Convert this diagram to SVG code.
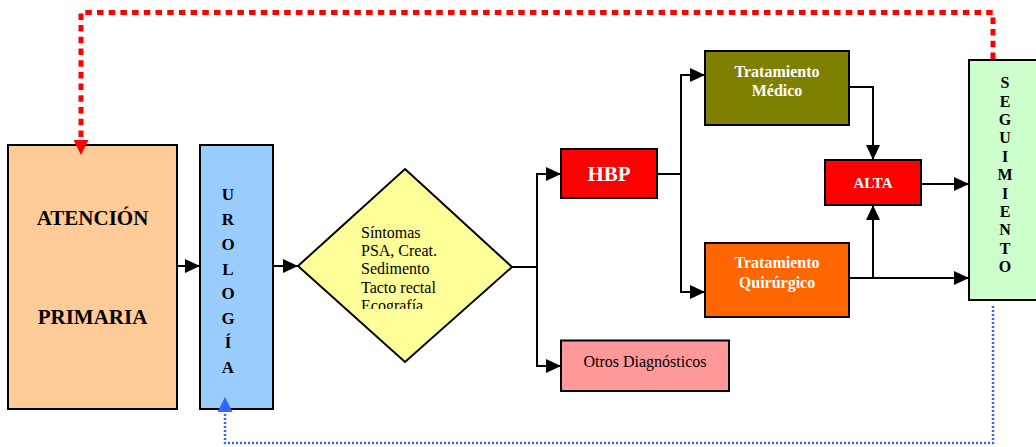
<svg xmlns="http://www.w3.org/2000/svg" width="1036" height="447" viewBox="0 0 1036 447">
<style>
.box{stroke:#000;stroke-width:2}
.t{font-family:"Liberation Serif","Times New Roman",serif}
.b{font-weight:bold}
.w{fill:#fff}
.k{fill:#000}
.conn{fill:none;stroke:#000;stroke-width:2}
</style>
<defs>
<marker id="ah" markerUnits="userSpaceOnUse" markerWidth="15" markerHeight="14" refX="15" refY="7" orient="auto"><path d="M0,0 L15,7 L0,14 z" fill="#000"/></marker>
<marker id="ahr" markerUnits="userSpaceOnUse" markerWidth="15" markerHeight="15" refX="0" refY="7.5" orient="auto"><path d="M0,0 L15,7.5 L0,15 z" fill="#FF0000"/></marker>
<marker id="ahb" markerUnits="userSpaceOnUse" markerWidth="15" markerHeight="15" refX="0" refY="7.5" orient="auto"><path d="M0,0 L15,7.5 L0,15 z" fill="#3366FF"/></marker>
<clipPath id="dclip"><rect x="340" y="215" width="140" height="94"/></clipPath>
</defs>
<g id="atencion">
<rect class="box" x="8" y="145" width="169" height="264" fill="#FFCC99"/>
<text class="t b k" x="92.5" y="225" font-size="21" text-anchor="middle">ATENCIÓN</text>
<text class="t b k" x="92.5" y="324" font-size="21" text-anchor="middle">PRIMARIA</text>
</g>
<g id="urologia">
<rect class="box" x="200" y="145" width="73" height="264" fill="#99CCFF"/>
<text class="t b k" font-size="17" text-anchor="middle">
<tspan x="228" y="200">U</tspan><tspan x="228" y="225">R</tspan><tspan x="228" y="250">O</tspan><tspan x="228" y="275">L</tspan><tspan x="228" y="299">O</tspan><tspan x="228" y="324">G</tspan><tspan x="228" y="348">Í</tspan><tspan x="228" y="373">A</tspan>
</text>
</g>
<g id="pruebas">
<path class="box" d="M405,169 L512,267 L405,362 L298,266 z" fill="#FFFF99"/>
<g clip-path="url(#dclip)">
<text class="t k" font-size="16">
<tspan x="361" y="238">Síntomas</tspan><tspan x="361" y="256.2">PSA, Creat.</tspan><tspan x="361" y="274.4">Sedimento</tspan><tspan x="361" y="292.6">Tacto rectal</tspan><tspan x="361" y="310.8">Ecografía</tspan>
</text>
</g>
</g>
<g id="hbp">
<rect class="box" x="561" y="149" width="96" height="49" fill="#FF0000"/>
<text class="t b w" x="609" y="181" font-size="21" text-anchor="middle">HBP</text>
</g>
<g id="otros">
<rect class="box" x="561" y="340.5" width="168" height="50.5" fill="#FF9999"/>
<text class="t k" x="645" y="366.5" font-size="16" text-anchor="middle">Otros Diagnósticos</text>
</g>
<g id="medico">
<rect class="box" x="705" y="51" width="144" height="74" fill="#808000"/>
<text class="t b w" font-size="16" text-anchor="middle"><tspan x="777" y="77">Tratamiento</tspan><tspan x="777" y="96.4">Médico</tspan></text>
</g>
<g id="quirurgico">
<rect class="box" x="705" y="243" width="144" height="74" fill="#FF6600"/>
<text class="t b w" font-size="16" text-anchor="middle"><tspan x="777" y="268.4">Tratamiento</tspan><tspan x="777" y="288">Quirúrgico</tspan></text>
</g>
<g id="alta">
<rect class="box" x="825" y="160" width="96" height="45" fill="#FF0000"/>
<text class="t b w" x="873" y="188" font-size="15" text-anchor="middle">ALTA</text>
</g>
<g id="seguimiento">
<rect class="box" x="969" y="60" width="80" height="240" fill="#CCFFCC"/>
<text class="t b k" font-size="16" text-anchor="middle">
<tspan x="1005" y="88.2">S</tspan><tspan x="1005" y="106.6">E</tspan><tspan x="1005" y="125">G</tspan><tspan x="1005" y="143.4">U</tspan><tspan x="1005" y="161.8">I</tspan><tspan x="1005" y="180.2">M</tspan><tspan x="1005" y="198.6">I</tspan><tspan x="1005" y="217">E</tspan><tspan x="1005" y="235.4">N</tspan><tspan x="1005" y="253.8">T</tspan><tspan x="1005" y="272.2">O</tspan>
</text>
</g>
<g id="connectors">
<path class="conn" d="M177,266 H200" marker-end="url(#ah)"/>
<path class="conn" d="M273,266 H298" marker-end="url(#ah)"/>
<path class="conn" d="M512,267 H537 V174 H561" marker-end="url(#ah)"/>
<path class="conn" d="M537,267 V366 H561" marker-end="url(#ah)"/>
<path class="conn" d="M657,174 H681 V75 H705" marker-end="url(#ah)"/>
<path class="conn" d="M681,174 V292 H705" marker-end="url(#ah)"/>
<path class="conn" d="M849,87 H873 V160" marker-end="url(#ah)"/>
<path class="conn" d="M849,278 H969" marker-end="url(#ah)"/>
<path class="conn" d="M873,278 V205" marker-end="url(#ah)"/>
<path class="conn" d="M921,184 H969" marker-end="url(#ah)"/>
<path d="M993,59 V12.5 H81 V140" fill="none" stroke="#FF0000" stroke-width="5" stroke-dasharray="6.5 5.2" marker-end="url(#ahr)"/>
<path d="M993,306 V443 H225 V412" fill="none" stroke="#3366FF" stroke-width="2.5" stroke-dasharray="2 2" marker-end="url(#ahb)"/>
</g>
</svg>
